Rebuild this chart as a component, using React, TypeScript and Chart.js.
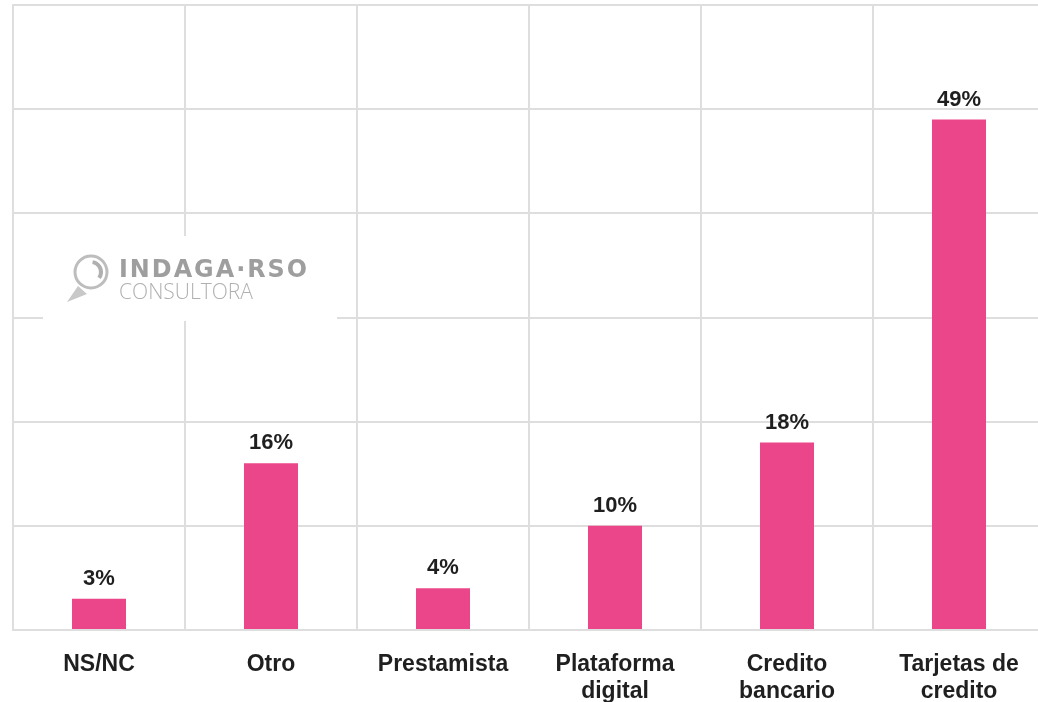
import React, { useEffect, useRef } from "react";
import { Chart, registerables } from "chart.js";

Chart.register(...registerables);

const categories: (string | string[])[] = [
  "NS/NC",
  "Otro",
  "Prestamista",
  ["Plataforma", "digital"],
  ["Credito", "bancario"],
  ["Tarjetas de", "credito"],
];
const values: number[] = [3, 16, 4, 10, 18, 49];
const yTicks: number[] = [0, 10, 20, 30, 40, 50, 60];
const watermarkTitle = "INDAGA·RSO";
const watermarkSub = "CONSULTORA";

const BAR_COLOR = "#EB4689";
const GRID_COLOR = "#dedede";
const FONT = "'Liberation Sans', Arial, sans-serif";

const watermarkPlugin = {
  id: "watermark",
  beforeDatasetsDraw(chart: any) {
    const ctx = chart.ctx as CanvasRenderingContext2D;
    ctx.save();
    ctx.fillStyle = "#ffffff";
    ctx.fillRect(43, 236, 294, 85);
    // icon
    ctx.strokeStyle = "#bdbdbd";
    ctx.lineWidth = 3;
    ctx.beginPath();
    ctx.arc(91, 272, 16, 0, Math.PI * 2);
    ctx.stroke();
    ctx.strokeStyle = "#b0b0b0";
    ctx.lineWidth = 4;
    ctx.beginPath();
    ctx.arc(91, 272, 10, -Math.PI * 0.45, Math.PI * 0.2);
    ctx.stroke();
    ctx.fillStyle = "#c8c8c8";
    ctx.beginPath();
    ctx.moveTo(67, 302);
    ctx.lineTo(78, 286);
    ctx.lineTo(87, 294);
    ctx.closePath();
    ctx.fill();
    // text
    ctx.fillStyle = "#9e9e9e";
    ctx.textAlign = "left";
    ctx.textBaseline = "alphabetic";
    ctx.font = "bold 24px 'DejaVu Sans', sans-serif";
    (ctx as any).letterSpacing = "2px";
    ctx.fillText(watermarkTitle, 119, 277, 190);
    (ctx as any).letterSpacing = "0px";
    ctx.fillStyle = "#b0b0b0";
    ctx.font = "300 22px 'Open Sans', sans-serif";
    ctx.fillText(watermarkSub, 119, 299, 134);
    ctx.restore();
  },
};

const valueLabelPlugin = {
  id: "valueLabels",
  afterDatasetsDraw(chart: any) {
    const ctx = chart.ctx as CanvasRenderingContext2D;
    const meta = chart.getDatasetMeta(0);
    ctx.save();
    ctx.fillStyle = "#1f1f1f";
    ctx.font = `bold 22px ${FONT}`;
    ctx.textAlign = "center";
    ctx.textBaseline = "alphabetic";
    meta.data.forEach((bar: any, i: number) => {
      ctx.fillText(`${values[i]}%`, bar.x, bar.y - 14);
    });
    ctx.restore();
  },
};

export default function App() {
  const canvasRef = useRef<HTMLCanvasElement | null>(null);

  useEffect(() => {
    if (!canvasRef.current) return;
    const chart = new Chart(canvasRef.current, {
      type: "bar",
      data: {
        labels: categories,
        datasets: [
          {
            data: values,
            backgroundColor: BAR_COLOR,
            borderWidth: 0,
            categoryPercentage: 1,
            barPercentage: 0.314,
          },
        ],
      },
      options: {
        responsive: false,
        animation: false,
        layout: { padding: { left: 13, top: 5, right: 5, bottom: 0 } },
        plugins: {
          legend: { display: false },
          tooltip: { enabled: false },
        },
        scales: {
          x: {
            grid: {
              color: GRID_COLOR,
              lineWidth: 2,
              drawTicks: false,
              offset: true,
            },
            border: { color: GRID_COLOR, width: 2 },
            ticks: {
              color: "#1f1f1f",
              font: { family: FONT, size: 23, weight: "bold", lineHeight: 1.17 },
              padding: 21,
              maxRotation: 0,
              autoSkip: false,
            },
            afterFit: (scale: any) => {
              scale.height = 72;
            },
          },
          y: {
            min: yTicks[0],
            max: yTicks[yTicks.length - 1],
            afterBuildTicks: (scale: any) => {
              scale.ticks = yTicks.map((v) => ({ value: v }));
            },
            grid: { color: GRID_COLOR, lineWidth: 2, drawTicks: false },
            border: { color: GRID_COLOR, width: 2 },
            ticks: { display: false },
            afterFit: (scale: any) => {
              scale.width = 0;
            },
          },
        },
      },
      plugins: [watermarkPlugin, valueLabelPlugin],
    });
    return () => chart.destroy();
  }, []);

  return (
    <div
      style={{
        position: "absolute",
        left: 0,
        top: 0,
        width: 1038,
        height: 702,
        overflow: "hidden",
        background: "#ffffff",
      }}
    >
      <canvas
        ref={canvasRef}
        width={1050}
        height={702}
        style={{ width: 1050, height: 702, display: "block" }}
      />
    </div>
  );
}
